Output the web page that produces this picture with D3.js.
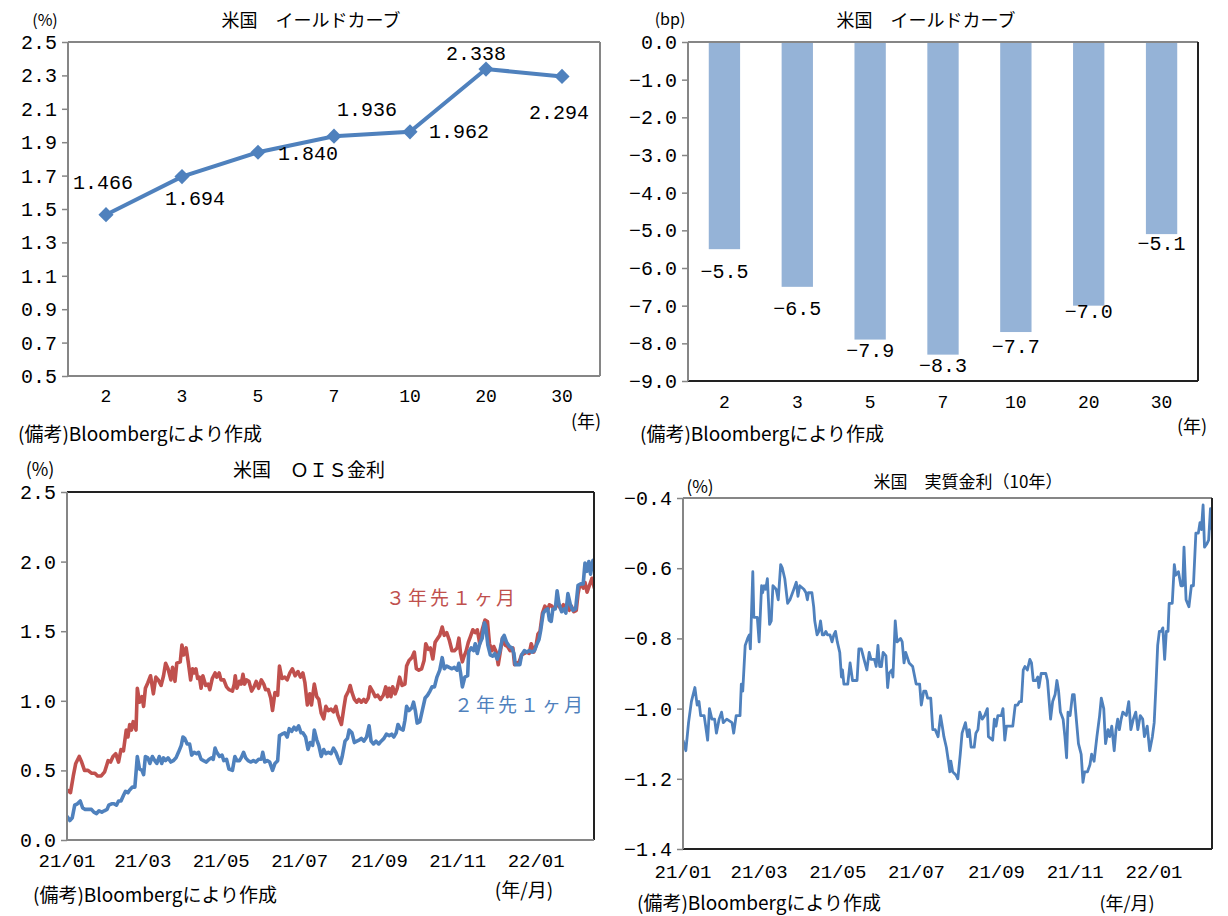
<!DOCTYPE html>
<html>
<head>
<meta charset="utf-8">
<script src="https://cdn.jsdelivr.net/npm/d3@7"></script>
<style>
  body { margin: 0; background: #fff; }
</style>
</head>
<body>
<svg id="chart" width="1228" height="916"></svg>
<script>
// ---- data ----
const tenors = ["2", "3", "5", "7", "10", "20", "30"];
const yields = [1.466, 1.694, 1.840, 1.936, 1.962, 2.338, 2.294];
const yieldChange = [-5.5, -6.5, -7.9, -8.3, -7.7, -7.0, -5.1];

const yieldTicks = [0.5, 0.7, 0.9, 1.1, 1.3, 1.5, 1.7, 1.9, 2.1, 2.3, 2.5];
const changeTicks = [0, -1, -2, -3, -4, -5, -6, -7, -8, -9];
const oisTicks = [0, 0.5, 1.0, 1.5, 2.0, 2.5];
const realTicks = [-1.4, -1.2, -1.0, -0.8, -0.6, -0.4];
const monthTicks = ["2021-01-01", "2021-03-01", "2021-05-01", "2021-07-01", "2021-09-01", "2021-11-01", "2022-01-01"];
const monthLabels = ["21/01", "21/03", "21/05", "21/07", "21/09", "21/11", "22/01"];

// [days since 2021-01-01, %]
const ois3y = [[0,0.36],[2.7,0.34],[4.9,0.46],[6.8,0.55],[9.5,0.6],[11.4,0.56],[13.6,0.5],[16.3,0.5],[19,0.48],[21.7,0.48],[23.8,0.46],[26.6,0.46],[29.3,0.49],[32,0.57],[33.9,0.56],[35.8,0.6],[37.9,0.62],[40.1,0.56],[42,0.65],[43.9,0.64],[46.1,0.79],[47.4,0.74],[48.8,0.83],[50.1,0.79],[51.5,0.85],[53.7,0.79],[54.7,1.09],[56.4,0.99],[58.3,1.03],[59.6,0.96],[61,1.09],[62.9,1.13],[65,1.18],[67.2,1.05],[69.1,1.17],[71,1.15],[73.2,1.11],[75.1,1.18],[76.7,1.27],[78.6,1.23],[80.8,1.15],[82.1,1.24],[84,1.14],[85.4,1.27],[88.1,1.28],[89.4,1.4],[90.8,1.33],[92.7,1.38],[94.3,1.28],[96.2,1.15],[97.6,1.23],[98.9,1.2],[100.3,1.23],[101.6,1.16],[103,1.17],[104.3,1.09],[105.7,1.18],[107.9,1.11],[109.8,1.12],[111.1,1.08],[113,1.16],[115.2,1.2],[116.5,1.17],[118.4,1.2],[119.8,1.15],[122,1.15],[124.1,1.1],[126,1.08],[128.7,1.07],[130.1,1.12],[130.9,1.18],[132.2,1.09],[134.1,1.14],[135.5,1.12],[136.9,1.19],[138.2,1.12],[139.6,1.15],[141.5,1.14],[143.6,1.07],[145.5,1.1],[147.2,1.14],[149.1,1.09],[151.2,1.15],[153.1,1.12],[154.5,1.08],[156.6,1.08],[158.5,1.02],[159.9,0.93],[161.8,1.06],[163.9,1.04],[165.3,1.25],[167.2,1.16],[169.4,1.17],[171.3,1.15],[173.4,1.2],[175.3,1.23],[177.5,1.18],[179.7,1.21],[181.6,1.17],[183.5,1.2],[185.1,1.13],[187,0.97],[188.9,1.05],[190.2,0.97],[192.4,1.12],[194.3,1.03],[195.9,1.01],[197.8,0.91],[199.7,0.87],[201.4,0.96],[203.3,0.93],[205.4,0.94],[207.3,0.92],[209.2,0.96],[210.6,0.9],[212.2,0.86],[213.5,0.83],[215.4,0.95],[216.8,1.03],[219,1.07],[220.3,1.11],[221.7,1.06],[223.6,1.01],[225.5,0.99],[227.1,1.01],[229,0.99],[230.9,1.01],[232.5,0.99],[234.4,1.02],[235.8,1.1],[237.7,1.07],[239.8,1.03],[241.7,1.04],[243.9,1.01],[246.1,1.04],[248,1.1],[249.3,1.03],[250.7,1.09],[252,1.03],[253.4,1.1],[255.3,1.05],[256.9,1.09],[258.8,1.17],[260.7,1.11],[262.9,1.12],[264.2,1.25],[266.1,1.29],[268.3,1.31],[270.2,1.35],[271.8,1.23],[273.7,1.22],[275.9,1.23],[277.8,1.29],[279.1,1.41],[281,1.37],[282.7,1.38],[284.6,1.3],[286.4,1.42],[287.8,1.44],[290,1.47],[291.9,1.53],[293.5,1.47],[295.4,1.49],[297.3,1.44],[299.5,1.36],[301.4,1.36],[303.5,1.38],[304.9,1.45],[306.2,1.34],[307.6,1.28],[308.9,1.32],[310.3,1.35],[312.2,1.42],[313.8,1.46],[315.7,1.51],[317.6,1.49],[319.2,1.51],[321.1,1.41],[323,1.51],[325.2,1.58],[327.1,1.57],[328.7,1.41],[330.6,1.36],[332,1.39],[333.9,1.35],[335.5,1.26],[336.9,1.34],[338.8,1.45],[340.9,1.4],[342.8,1.39],[344.7,1.36],[346.9,1.38],[348.2,1.26],[349.6,1.27],[351.8,1.28],[353.7,1.33],[355.8,1.34],[357.7,1.35],[359.6,1.34],[361.2,1.41],[363.1,1.35],[365,1.4],[366.4,1.48],[368,1.5],[369.9,1.63],[371.8,1.68],[374,1.65],[375.3,1.69],[377.2,1.68],[378.9,1.66],[380.8,1.68],[382.1,1.7],[384,1.66],[386.2,1.69],[387.5,1.65],[388.9,1.69],[390.8,1.65],[392.4,1.68],[394.3,1.64],[396.2,1.65],[397.6,1.77],[398.9,1.83],[400.5,1.83],[401.6,1.81],[403,1.85],[404.6,1.78],[406.5,1.83],[408.4,1.88],[410,1.82],[411.4,1.78],[412.5,1.77]];

const ois2y = [[0,0.17],[2.2,0.14],[4.1,0.16],[6,0.25],[8.1,0.26],[10.3,0.28],[12.2,0.23],[14.1,0.22],[16.3,0.22],[19,0.22],[20.9,0.2],[23,0.19],[24.9,0.21],[27.1,0.2],[29,0.21],[31.2,0.22],[32.5,0.25],[34.7,0.26],[36.6,0.26],[38.5,0.25],[40.1,0.28],[42,0.28],[43.9,0.32],[45.5,0.35],[47.4,0.34],[48.8,0.36],[50.9,0.38],[52.8,0.38],[54.7,0.6],[56.4,0.51],[58.3,0.5],[59.6,0.47],[61,0.6],[62.9,0.59],[64.5,0.55],[66.4,0.6],[68.3,0.57],[69.9,0.55],[71.8,0.6],[73.7,0.55],[75.1,0.59],[76.7,0.57],[78.6,0.59],[80.8,0.56],[82.7,0.57],[84.8,0.59],[86.7,0.63],[88.9,0.68],[90.2,0.74],[91.6,0.73],[93.5,0.69],[95.4,0.69],[97,0.61],[98.9,0.63],[100.8,0.62],[102.4,0.63],[104.3,0.58],[106.2,0.57],[108.4,0.56],[110.6,0.58],[112.5,0.59],[113.8,0.58],[115.2,0.66],[116.5,0.63],[118.7,0.6],[120.6,0.61],[122,0.57],[124.1,0.58],[126,0.51],[128.7,0.5],[130.6,0.6],[132.2,0.57],[134.1,0.57],[135.5,0.59],[137.4,0.63],[139,0.59],[140.9,0.57],[143.1,0.56],[145,0.57],[146.9,0.56],[149.1,0.58],[151.2,0.58],[152.3,0.63],[153.9,0.56],[155.8,0.57],[157.7,0.56],[159.9,0.5],[161.8,0.55],[163.9,0.57],[165.3,0.75],[167.2,0.76],[169.4,0.77],[171.3,0.74],[172.9,0.8],[174.8,0.78],[176.7,0.81],[178.3,0.79],[180.2,0.82],[182.1,0.77],[183.5,0.77],[185.6,0.74],[187.5,0.65],[189.2,0.7],[191.1,0.68],[192.4,0.79],[194.3,0.72],[195.9,0.68],[197.8,0.6],[199.7,0.65],[201.4,0.62],[203.3,0.63],[205.4,0.62],[207.3,0.66],[209.2,0.63],[210.8,0.59],[212.7,0.55],[214.1,0.6],[216.3,0.71],[218.2,0.73],[219.5,0.79],[221.7,0.77],[223.6,0.7],[225.5,0.71],[227.6,0.72],[229,0.73],[230.9,0.71],[233.1,0.74],[235,0.82],[236.6,0.71],[238.5,0.69],[240.4,0.71],[242.5,0.69],[244.4,0.71],[246.6,0.73],[248.5,0.76],[250.7,0.75],[252.6,0.76],[254.2,0.74],[256.1,0.77],[257.5,0.83],[259.3,0.8],[261.5,0.79],[262.9,0.86],[264.2,0.96],[266.1,0.93],[268.3,0.95],[269.6,0.99],[271,0.93],[272.4,0.84],[274.5,0.85],[276.4,0.93],[278.6,1.02],[280.5,1.04],[282.4,1.07],[284,1.1],[285.9,1.1],[287.8,1.17],[290,1.22],[291.9,1.31],[293.5,1.23],[295.4,1.25],[297.3,1.24],[299.5,1.23],[301.4,1.24],[303.5,1.22],[304.9,1.27],[306.2,1.2],[307.6,1.1],[309.5,1.17],[311.7,1.18],[312.5,1.35],[314.4,1.38],[316.3,1.36],[317.6,1.41],[319.2,1.34],[321.1,1.41],[323,1.45],[324.7,1.56],[325.7,1.54],[327.4,1.4],[329.3,1.33],[331.2,1.32],[332.8,1.34],[334.7,1.3],[336.6,1.35],[338.8,1.45],[340.1,1.47],[342,1.42],[344.2,1.39],[346.1,1.38],[347.7,1.34],[348.8,1.26],[351,1.26],[352.3,1.26],[353.7,1.33],[355.8,1.36],[357.7,1.35],[359.6,1.36],[361.8,1.35],[363.7,1.36],[365.3,1.4],[367.2,1.44],[368.6,1.51],[370.5,1.63],[372.1,1.65],[374,1.66],[375.3,1.58],[376.7,1.57],[378,1.66],[379.9,1.66],[381.3,1.79],[382.7,1.7],[384.8,1.64],[386.7,1.66],[388.1,1.63],[389.7,1.77],[391.6,1.69],[393.5,1.65],[395.7,1.66],[397.6,1.83],[399.7,1.84],[401.6,1.84],[403,1.99],[404.4,1.93],[406,2.0],[407.3,1.91],[409.2,2.01],[410.6,1.94],[411.9,1.88],[412.5,1.87]];

const real10y = [[0,-1.09],[2.2,-1.12],[4.3,-1.04],[6.5,-0.98],[9.2,-0.94],[11,-0.99],[12.4,-0.98],[13.7,-1.02],[16.4,-1.02],[19.1,-1.09],[20.5,-1.0],[22.4,-1.03],[24.5,-1.03],[25.9,-1.07],[28,-1.03],[29.9,-1.01],[31.2,-1.04],[33.9,-1.03],[38,-1.04],[39.3,-1.07],[41.2,-1.02],[44.2,-1.02],[45.2,-0.93],[46.3,-0.95],[48.2,-0.82],[50.1,-0.8],[51.4,-0.79],[52.2,-0.83],[54.1,-0.61],[54.9,-0.74],[57.6,-0.74],[59,-0.81],[60.9,-0.65],[61.7,-0.67],[63,-0.65],[64.1,-0.66],[65.4,-0.63],[67.1,-0.76],[68.4,-0.75],[69.7,-0.65],[72.2,-0.66],[73.8,-0.69],[75.7,-0.59],[77,-0.6],[78.9,-0.63],[81.1,-0.7],[82.9,-0.69],[85.9,-0.66],[87.8,-0.64],[89.1,-0.68],[90.5,-0.65],[93.7,-0.66],[95.3,-0.67],[96.4,-0.69],[97.2,-0.67],[99.9,-0.67],[101.3,-0.71],[102.1,-0.75],[103.9,-0.79],[105.3,-0.78],[106.6,-0.75],[108,-0.79],[109.3,-0.79],[110.7,-0.78],[112,-0.79],[113.9,-0.79],[115.5,-0.81],[116.9,-0.79],[118.2,-0.78],[119.6,-0.81],[121.5,-0.84],[122.8,-0.91],[123.6,-0.89],[124.7,-0.93],[127.7,-0.93],[129.5,-0.87],[131.4,-0.92],[134.9,-0.92],[136.3,-0.83],[138.2,-0.83],[140.3,-0.86],[142.5,-0.89],[144.3,-0.84],[145.7,-0.86],[148.4,-0.86],[149.7,-0.88],[151.1,-0.82],[152.4,-0.88],[153.8,-0.88],[155.1,-0.84],[157.3,-0.85],[158.6,-0.94],[159.7,-0.9],[161.9,-0.89],[162.7,-0.91],[164.5,-0.75],[165.9,-0.81],[168.6,-0.8],[169.9,-0.81],[171.3,-0.87],[172.6,-0.84],[175.3,-0.87],[178,-0.88],[180.7,-0.93],[183.4,-0.93],[184.7,-0.99],[186.6,-0.95],[188.2,-0.95],[189.6,-0.97],[192,-0.97],[193.6,-1.06],[195.5,-1.06],[197.7,-1.08],[199.6,-1.02],[201.4,-1.06],[202.2,-1.08],[204.1,-1.11],[205.7,-1.15],[206.8,-1.18],[207.6,-1.15],[209,-1.18],[211.7,-1.19],[213,-1.2],[214.9,-1.13],[216.3,-1.07],[218.9,-1.04],[220.6,-1.08],[221.9,-1.06],[223.3,-1.11],[225.7,-1.11],[227,-1.07],[228.6,-1.06],[230,-1.01],[231.9,-1.03],[233.8,-1.02],[235.9,-1.0],[236.7,-1.08],[240,-1.09],[241.3,-1.03],[242.6,-1.05],[244,-1.02],[246.7,-1.02],[248,-1.0],[249.4,-1.09],[250.7,-1.05],[253.4,-1.05],[255.6,-1.05],[257.5,-0.99],[259.3,-0.99],[260.7,-0.98],[262.3,-0.98],[263.7,-0.89],[265,-0.88],[266.9,-0.89],[268.8,-0.86],[270.1,-0.87],[271.5,-0.92],[273.6,-0.92],[275,-0.91],[275.8,-0.94],[277.6,-0.9],[281.2,-0.9],[282.5,-0.92],[284.9,-1.03],[286.5,-0.98],[288.4,-0.96],[289.8,-0.92],[291.1,-0.95],[292.5,-1.01],[294.6,-1.03],[296,-1.08],[297.3,-1.14],[298.4,-1.01],[300,-1.02],[301.9,-0.96],[303.2,-0.96],[304.6,-1.02],[306.5,-1.1],[308.6,-1.13],[310,-1.21],[311.3,-1.18],[313.5,-1.18],[315.4,-1.16],[316.7,-1.13],[318.6,-1.15],[320.8,-1.08],[322.9,-1.02],[324.2,-0.97],[326.1,-1.0],[327.5,-1.1],[329.4,-1.06],[330.7,-1.08],[332.3,-1.05],[334.2,-1.12],[335.6,-1.06],[336.9,-1.03],[338.2,-1.06],[339.6,-1.03],[340.9,-1.01],[343.6,-1.02],[345.5,-0.98],[347.1,-1.06],[349,-1.03],[350.9,-1.01],[352.5,-1.06],[354.4,-1.02],[356.3,-1.03],[357.6,-1.08],[359.8,-1.05],[361.7,-1.12],[363.8,-1.08],[365.2,-1.04],[366.5,-0.94],[367.9,-0.82],[369.2,-0.78],[370.6,-0.78],[371.9,-0.77],[373.3,-0.86],[374.6,-0.78],[375.9,-0.78],[376.8,-0.7],[379.2,-0.7],[380.8,-0.59],[381.9,-0.62],[384,-0.61],[385.9,-0.65],[387.3,-0.65],[388.3,-0.54],[389.9,-0.69],[392.1,-0.71],[394,-0.65],[395.6,-0.65],[397.5,-0.5],[399.4,-0.5],[400.7,-0.47],[401.8,-0.49],[403.1,-0.42],[404.2,-0.54],[406.1,-0.53],[407.4,-0.52],[408.8,-0.43],[410.1,-0.49],[411.5,-0.5]];

// ---- setup ----
const svg = d3.select("#chart");
const JP = "'Noto Sans CJK JP', sans-serif";
const NUM = "'Liberation Mono', monospace";
const GRAY = "#868686";
const BLUE = "#4F81BD";
const RED = "#C0504D";
const BAR = "#95B3D7";
const base = new Date(2021, 0, 1);
const toDate = d => new Date(base.getTime() + d * 864e5);
const fmt1 = v => v.toFixed(1).replace("-", "\u2212");

function label(x, y, str, opt = {}) {
    return svg.append("text")
        .attr("x", x)
        .attr("y", y)
        .attr("dominant-baseline", "central")
        .attr("text-anchor", opt.anchor || "middle")
        .style("font-family", opt.font || JP)
        .style("font-size", (opt.size || 17) + "px")
        .style("letter-spacing", opt.spacing || 0)
        .style("fill", opt.color || "#000")
        .text(str);
}

function yAxis(y, ticks, x0, fmt) {
    const g = svg.append("g")
        .attr("transform", `translate(${x0},0)`)
        .call(d3.axisLeft(y).tickValues(ticks).tickSize(6).tickPadding(5).tickFormat(fmt));
    g.select(".domain").remove();
    g.selectAll(".tick line").attr("stroke", GRAY).attr("stroke-width", 1.5);
    g.selectAll(".tick text")
        .style("font-family", NUM)
        .style("font-size", "20px")
        .style("fill", "#000");
}

// top, right, bottom, left
function frame(x0, x1, y0, y1, colors) {
    const sides = [[x0, y0, x1, y0], [x1, y0, x1, y1], [x0, y1, x1, y1], [x0, y0, x0, y1]];
    sides.forEach((s, i) => {
        svg.append("line")
            .attr("x1", s[0]).attr("y1", s[1])
            .attr("x2", s[2]).attr("y2", s[3])
            .attr("stroke", colors[i])
            .attr("stroke-width", 2);
    });
}

function timeXLabels(x, yPos) {
    monthTicks.forEach((m, i) => {
        label(x(new Date(m + "T00:00:00")), yPos, monthLabels[i], { font: NUM, size: 19 });
    });
}

// ---- panel 1: yield curve ----
{
    const x = d3.scaleBand().domain(tenors).range([68, 600]);
    const y = d3.scaleLinear().domain([0.5, 2.5]).range([376, 42]);
    const cx = t => x(t) + x.bandwidth() / 2;

    frame(68, 600, 42, 376, [GRAY, GRAY, GRAY, GRAY]);
    yAxis(y, yieldTicks, 68, fmt1);
    tenors.forEach(t => label(cx(t), 397, t, { font: NUM, size: 18 }));

    const line = d3.line().x((d, i) => cx(tenors[i])).y(d => y(d));
    svg.append("path")
        .datum(yields)
        .attr("d", line)
        .attr("fill", "none")
        .attr("stroke", BLUE)
        .attr("stroke-width", 4);

    svg.selectAll(".diamond")
        .data(yields)
        .join("path")
        .attr("class", "diamond")
        .attr("d", d3.symbol(d3.symbolSquare, 115))
        .attr("transform", (d, i) => `translate(${cx(tenors[i])},${y(d)}) rotate(45)`)
        .attr("fill", BLUE);

    // label offsets from each point
    const offs = [[-3, -31], [13, 23], [50, 2], [33, -26], [49, 1], [-10, -15], [-3, 37]];
    yields.forEach((v, i) => {
        label(cx(tenors[i]) + offs[i][0], y(v) + offs[i][1], v.toFixed(3), { font: NUM, size: 20 });
    });

    label(45, 19, "(%)", { size: 16 });
    label(311, 19, "米国　イールドカーブ", { size: 18 });
    label(586, 420, "(年)", { size: 18 });
    label(18, 432, "(備考)Bloombergにより作成", { anchor: "start", size: 19 });
}

// ---- panel 2: yield change bars ----
{
    const x = d3.scaleBand().domain(tenors).range([688, 1198]);
    const y = d3.scaleLinear().domain([-9, 0]).range([381, 42]);
    const bw = x.bandwidth() * 0.43;
    const cx = t => x(t) + x.bandwidth() / 2;

    svg.selectAll(".bar")
        .data(yieldChange)
        .join("rect")
        .attr("class", "bar")
        .attr("x", (d, i) => cx(tenors[i]) - bw / 2)
        .attr("y", y(0))
        .attr("width", bw)
        .attr("height", d => y(d) - y(0))
        .attr("fill", BAR);

    frame(688, 1198, 42, 381, [GRAY, "#222", "#222", GRAY]);
    yAxis(y, changeTicks, 688, fmt1);
    tenors.forEach(t => label(cx(t), 403, t, { font: NUM, size: 18 }));

    const offs = [23, 23, 12, 12, 15, 7, 10];
    yieldChange.forEach((v, i) => {
        label(cx(tenors[i]), y(v) + offs[i], fmt1(v), { font: NUM, size: 20 });
    });

    label(670, 18, "(bp)", { size: 16 });
    label(926, 19, "米国　イールドカーブ", { size: 18 });
    label(1192, 425, "(年)", { size: 18 });
    label(640, 432, "(備考)Bloombergにより作成", { anchor: "start", size: 19 });
}

// ---- panel 3: OIS forwards ----
{
    const x = d3.scaleTime().domain([base, toDate(410)]).range([67, 594]);
    const y = d3.scaleLinear().domain([0, 2.5]).range([840, 492]);

    svg.append("clipPath").attr("id", "clipOis")
        .append("rect").attr("x", 67).attr("y", 480).attr("width", 527).attr("height", 370);

    const line = d3.line().x(d => x(toDate(d[0]))).y(d => y(d[1]));
    [[ois3y, RED], [ois2y, BLUE]].forEach(([data, color]) => {
        svg.append("path")
            .datum(data)
            .attr("d", line)
            .attr("clip-path", "url(#clipOis)")
            .attr("fill", "none")
            .attr("stroke", color)
            .attr("stroke-width", 3.6)
            .attr("stroke-linejoin", "round");
    });

    frame(67, 594, 492, 840, ["#222", "#222", GRAY, GRAY]);
    yAxis(y, oisTicks, 67, fmt1);
    timeXLabels(x, 862);

    label(452, 596, "３年先１ヶ月", { size: 19, color: RED, spacing: "3px" });
    label(520, 703, "２年先１ヶ月", { size: 19, color: BLUE, spacing: "3px" });

    label(40, 468, "(%)", { size: 18 });
    label(309, 468, "米国　ＯＩＳ金利", { size: 19 });
    label(524, 888, "(年/月)", { size: 19 });
    label(33, 893, "(備考)Bloombergにより作成", { anchor: "start", size: 19 });
}

// ---- panel 4: real rate ----
{
    const x = d3.scaleTime().domain([base, toDate(410)]).range([683, 1212]);
    const y = d3.scaleLinear().domain([-1.4, -0.4]).range([849, 498]);

    svg.append("clipPath").attr("id", "clipReal")
        .append("rect").attr("x", 683).attr("y", 490).attr("width", 529).attr("height", 370);

    svg.append("path")
        .datum(real10y)
        .attr("d", d3.line().x(d => x(toDate(d[0]))).y(d => y(d[1])))
        .attr("clip-path", "url(#clipReal)")
        .attr("fill", "none")
        .attr("stroke", BLUE)
        .attr("stroke-width", 2.8)
        .attr("stroke-linejoin", "round");

    frame(683, 1212, 498, 849, [GRAY, "#222", "#222", GRAY]);
    yAxis(y, realTicks, 683, fmt1);
    timeXLabels(x, 873);

    label(700, 485, "(%)", { size: 17 });
    label(968, 480, "米国　実質金利（10年）", { size: 17 });
    label(1127, 902, "(年/月)", { size: 18 });
    label(637, 901, "(備考)Bloombergにより作成", { anchor: "start", size: 19 });
}
</script>
</body>
</html>
